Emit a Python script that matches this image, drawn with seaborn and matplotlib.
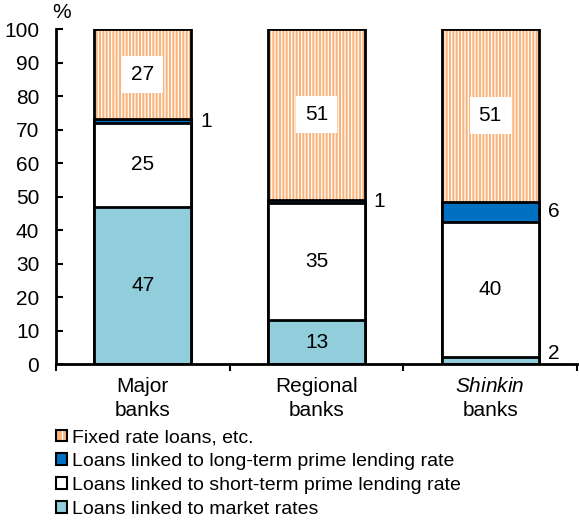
import numpy as np
import pandas as pd
import matplotlib
matplotlib.use("Agg")
from matplotlib import pyplot as plt
from matplotlib.patches import Patch
import seaborn as sns

banks = ["Major\nbanks", "Regional\nbanks", "$\\it{Shinkin}$\nbanks"]
series = [
    "Loans linked to market rates",
    "Loans linked to short-term prime lending rate",
    "Loans linked to long-term prime lending rate",
    "Fixed rate loans, etc.",
]
market = [47, 13, 2]
short_prime = [25, 35, 40]
long_prime = [1, 1, 6]
fixed = [27, 51, 51]
colors = ["#92CDDC", "#FFFFFF", "#0070C0", "#F9B47C"]

sns.set_theme(style="white")
plt.rcParams["font.family"] = ["Liberation Sans", "DejaVu Sans"]
plt.rcParams["mathtext.fontset"] = "custom"
plt.rcParams["mathtext.it"] = "Liberation Sans:italic"
plt.rcParams["mathtext.rm"] = "Liberation Sans"
plt.rcParams["hatch.linewidth"] = 0.9
for k in ["text.color", "axes.labelcolor", "xtick.color", "ytick.color"]:
    plt.rcParams[k] = "black"

vals = np.array([market, short_prime, long_prime, fixed], dtype=float)
# shares of each bank's total (shown figures are rounded)
shares = vals / vals.sum(axis=0) * 100
cum = shares.cumsum(axis=0)
df = pd.DataFrame(
    [
        {"bank": b, "series": s, "value": vals[i, j], "cum": cum[i, j]}
        for i, s in enumerate(series)
        for j, b in enumerate(banks)
    ]
)

fig = plt.figure(figsize=(5.79, 5.21), dpi=100)
ax = fig.add_axes([0.0967, 0.3013, 0.900, 0.643])

# draw from the top layer down so each segment covers the one above it
for i in reversed(range(len(series))):
    sub = df[df["series"] == series[i]]
    n0 = len(ax.patches)
    sns.barplot(
        data=sub, x="bank", y="cum", color=colors[i], saturation=1,
        edgecolor="black", linewidth=2, width=0.56, ax=ax, errorbar=None,
    )
    if i == 3:
        for p in ax.patches[n0:]:
            p.set_hatch("|||||")
            p._hatch_color = (1, 1, 1, 1)

# value labels
for i, s in enumerate(series):
    for j in range(len(banks)):
        v = vals[i, j]
        mid = max(cum[i, j] - shares[i, j] / 2, 3)
        lab = f"{v:.0f}"
        if v < 10:
            ax.text(j + 0.33, mid, lab, ha="left", va="center", fontsize=15)
        elif i == 3:
            ax.text(j, mid, lab, ha="center", va="center", fontsize=15,
                    bbox=dict(facecolor="white", edgecolor="none", pad=6.5))
        else:
            ax.text(j, mid, lab, ha="center", va="center", fontsize=15)

ax.set_ylim(0, 100)
ax.set_xlim(-0.5, 2.5)
ax.set_yticks(range(0, 101, 10))
ax.set_xlabel("")
ax.set_ylabel("")
ax.tick_params(axis="y", direction="in", length=5, width=1.5, labelsize=15,
               left=True, pad=12)
ax.tick_params(axis="x", which="major", length=0, labelsize=15, pad=9)
for t in ax.get_xticklabels():
    t.set_linespacing(1.35)
ax.set_xticks([-0.5, 0.5, 1.5, 2.5], minor=True)
ax.tick_params(axis="x", which="minor", direction="out", length=5, width=1.5,
               bottom=True)
for sp in ["top", "right"]:
    ax.spines[sp].set_visible(False)
for sp in ["left", "bottom"]:
    ax.spines[sp].set_color("black")
    ax.spines[sp].set_linewidth(2)
ax.text(-0.47, 102, "%", ha="center", va="bottom", fontsize=15, clip_on=False)

handles = []
for i in reversed(range(len(series))):
    h = Patch(facecolor=colors[i], edgecolor="black", linewidth=1.5,
              hatch="||" if i == 3 else None, label=series[i])
    handles.append(h)
leg = fig.legend(handles=handles, loc="upper left", bbox_to_anchor=(0.097, 0.176),
                 frameon=False, fontsize=14, handlelength=0.55, handleheight=0.55,
                 handletextpad=0.25, labelspacing=0.35, borderaxespad=0, borderpad=0)
for p in leg.get_patches():
    if p.get_hatch():
        p._hatch_color = (1, 1, 1, 1)

fig.savefig("out.png", dpi=100)
